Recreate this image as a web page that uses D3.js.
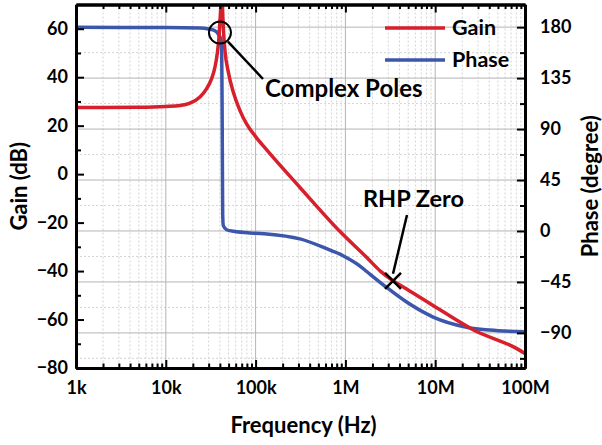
<!DOCTYPE html>
<html>
<head>
<meta charset="utf-8">
<script src="https://cdn.jsdelivr.net/npm/d3@7"></script>
<style>
  body { margin: 0; background: #fff; }
  svg { font-family: Lato, "Open Sans", sans-serif; font-weight: bold; }
  .axis path { stroke: #000; stroke-width: 3; }
  .axis line { stroke: #000; stroke-width: 2; }
  .axis text { font-size: 18px; font-family: Lato, sans-serif; font-weight: bold; fill: #000; }
</style>
</head>
<body>
<svg width="602" height="445"></svg>
<script>
// frequency ticks
const freqMajor = [1e3, 1e4, 1e5, 1e6, 1e7, 1e8];
const freqLabels = ["1k", "10k", "100k", "1M", "10M", "100M"];

// gain axis ticks
const gainTicks = [-80, -60, -40, -20, 0, 20, 40, 60];
const gainMinor = [-70, -50, -30, -10, 10, 30, 50];

// phase axis ticks
const phaseTicks = [-90, -45, 0, 45, 90, 135, 180];
const phaseMinor = [-112.5, -67.5, -22.5, 22.5, 67.5, 112.5, 157.5];

// gain curve
const gainFreq = [1e3, 5e3, 1e4, 14.4e3, 18.6e3, 24e3, 28.5e3, 32.4e3, 35.3e3, 37.4e3,
  39.1e3, 40.1e3, 40.9e3, 41.9e3, 42.9e3, 43.7e3, 45.6e3, 49.7e3, 56.5e3, 67e3,
  79.6e3, 1e5, 1.33e5, 3.12e5, 8.71e5, 1.74e6, 2.45e6, 3.39e6, 4.85e6, 1.13e7,
  2.64e7, 8.1e7, 1e8];
const gainDb = [27.5, 27.6, 27.9, 28.3, 29.3, 31.8, 35.3, 39.4, 44.2, 49.7,
  56.5, 63.4, 68.8, 85, 68, 60.6, 51, 42.1, 33.8, 26.2,
  20.6, 15.5, 10, -5.5, -23.7, -34.5, -40, -44, -47.5, -56,
  -64.2, -72, -74];

// phase curve
const phaseFreq = [1e3, 1e4, 24e3, 30e3, 35.3e3, 38.4e3, 40.9e3, 41.9e3, 42.5e3, 43.0e3,
  43.7e3, 47.6e3, 56.5e3, 1e5, 1.33e5, 3.12e5, 7.28e5, 8.71e5, 1e6, 1.455e6,
  1.74e6, 2.86e6, 4.85e6, 9.5e6, 2.24e7, 5e7, 1e8];
const phaseDeg = [179.8, 179.7, 179.2, 178.3, 176.8, 173.9, 169.5, 163.5, 90, 15,
  4.7, 1.1, -0.3, -2, -2.6, -7, -18, -20.5, -23, -31,
  -36, -49.7, -63, -76, -85, -88, -89];

const svg = d3.select("svg");
const pLeft = 76, pRight = 525, pTop = 4.5, pBottom = 368;

const x = d3.scaleLog().domain([1e3, 1e8]).range([pLeft, pRight]);
const yG = d3.scaleLinear().domain([-80, 70]).range([pBottom, pTop]);
const yP = d3.scaleLinear().domain([-121, 200]).range([pBottom, pTop]);

// grid
const grid = svg.append("g");
const minorFreq = x.ticks().filter(d => !freqMajor.includes(d));
grid.selectAll("line.vminor").data(minorFreq).join("line")
  .attr("x1", d => x(d)).attr("x2", d => x(d))
  .attr("y1", pTop).attr("y2", pBottom)
  .attr("stroke", "#d4d4d4").attr("stroke-dasharray", "2,2");
grid.selectAll("line.hminor").data(phaseMinor).join("line")
  .attr("x1", pLeft).attr("x2", pRight)
  .attr("y1", d => yP(d)).attr("y2", d => yP(d))
  .attr("stroke", "#d4d4d4").attr("stroke-dasharray", "2,2");
grid.selectAll("line.vmajor").data(freqMajor.slice(1, -1)).join("line")
  .attr("x1", d => x(d)).attr("x2", d => x(d))
  .attr("y1", pTop).attr("y2", pBottom)
  .attr("stroke", "#b4b4b4");
grid.selectAll("line.hmajor").data(phaseTicks).join("line")
  .attr("x1", pLeft).attr("x2", pRight)
  .attr("y1", d => yP(d)).attr("y2", d => yP(d))
  .attr("stroke", "#b4b4b4");

// curves
svg.append("clipPath").attr("id", "plotClip")
  .append("rect").attr("x", pLeft).attr("y", pTop)
  .attr("width", pRight - pLeft).attr("height", pBottom - pTop);

const gainLine = d3.line()
  .x((d, i) => x(gainFreq[i]))
  .y(d => yG(d))
  .curve(d3.curveMonotoneX);
const phaseLine = d3.line()
  .x((d, i) => x(phaseFreq[i]))
  .y(d => yP(d))
  .curve(d3.curveMonotoneX);

const curves = svg.append("g").attr("clip-path", "url(#plotClip)");
curves.append("path").datum(phaseDeg)
  .attr("d", phaseLine)
  .attr("fill", "none").attr("stroke", "#3c56ac").attr("stroke-width", 3.5);
curves.append("path").datum(gainDb)
  .attr("d", gainLine)
  .attr("fill", "none").attr("stroke", "#d7202b").attr("stroke-width", 3.5);

// axes
svg.append("g").attr("class", "axis")
  .attr("transform", `translate(0,${pBottom})`)
  .call(d3.axisBottom(x).tickValues(freqMajor).tickSize(-8).tickSizeOuter(0)
    .tickPadding(13).tickFormat((d, i) => freqLabels[i]));
svg.append("g").attr("class", "axis")
  .attr("transform", `translate(0,${pBottom})`)
  .call(d3.axisBottom(x).tickValues(minorFreq).tickSize(-4.5).tickSizeOuter(0).tickFormat(""));
svg.append("g").attr("class", "axis")
  .attr("transform", `translate(0,${pTop})`)
  .call(d3.axisTop(x).tickValues(freqMajor).tickSize(-8).tickSizeOuter(0).tickFormat(""));
svg.append("g").attr("class", "axis")
  .attr("transform", `translate(0,${pTop})`)
  .call(d3.axisTop(x).tickValues(minorFreq).tickSize(-4.5).tickSizeOuter(0).tickFormat(""));

svg.append("g").attr("class", "axis")
  .attr("transform", `translate(${pLeft},0)`)
  .call(d3.axisLeft(yG).tickValues(gainTicks).tickSize(-8).tickSizeOuter(0).tickPadding(8));
svg.append("g").attr("class", "axis")
  .attr("transform", `translate(${pLeft},0)`)
  .call(d3.axisLeft(yG).tickValues(gainMinor).tickSize(-5).tickSizeOuter(0).tickFormat(""));
svg.append("g").attr("class", "axis")
  .attr("transform", `translate(${pRight},0)`)
  .call(d3.axisRight(yP).tickValues(phaseTicks).tickSize(-8).tickSizeOuter(0).tickPadding(15));
svg.append("g").attr("class", "axis")
  .attr("transform", `translate(${pRight},0)`)
  .call(d3.axisRight(yP).tickValues(phaseMinor).tickSize(-5).tickSizeOuter(0).tickFormat(""));

// axis titles
svg.append("text").attr("transform", `translate(27,${(pTop + pBottom) / 2}) rotate(-90)`)
  .attr("text-anchor", "middle").attr("font-size", 22).text("Gain (dB)");
svg.append("text").attr("transform", `translate(598,${(pTop + pBottom) / 2}) rotate(-90)`)
  .attr("text-anchor", "middle").attr("font-size", 22).text("Phase (degree)");
svg.append("text").attr("x", (pLeft + pRight) / 2 + 3).attr("y", 433)
  .attr("text-anchor", "middle").attr("font-size", 22).text("Frequency (Hz)");

// legend
const legend = [["Gain", "#d7202b", 28], ["Phase", "#3c56ac", 60]];
legend.forEach(([name, color, ly]) => {
  svg.append("line").attr("x1", 385).attr("x2", 445).attr("y1", ly).attr("y2", ly)
    .attr("stroke", color).attr("stroke-width", 3.5);
  svg.append("text").attr("x", 452).attr("y", ly + 7).attr("font-size", 21.5).text(name);
});

// annotations
const cx = x(40.1e3), cy = yG(58.4);
svg.append("circle").attr("cx", cx).attr("cy", cy).attr("r", 11)
  .attr("fill", "none").attr("stroke", "#000").attr("stroke-width", 2);
svg.append("line").attr("x1", cx + 8).attr("y1", cy + 9).attr("x2", 263).attr("y2", 79)
  .attr("stroke", "#000").attr("stroke-width", 2.5);
svg.append("text").attr("x", 265).attr("y", 97).attr("font-size", 24).text("Complex Poles");

const zx = x(3.39e6), zy = yG(-44);
svg.append("path")
  .attr("d", `M${zx - 8},${zy - 8}L${zx + 8},${zy + 8}M${zx - 8},${zy + 8}L${zx + 8},${zy - 8}`)
  .attr("stroke", "#000").attr("stroke-width", 2.5);
svg.append("line").attr("x1", 407).attr("y1", 215).attr("x2", zx).attr("y2", zy - 7)
  .attr("stroke", "#000").attr("stroke-width", 2.5);
svg.append("text").attr("x", 363).attr("y", 207).attr("font-size", 23.5).text("RHP Zero");
</script>
</body>
</html>
